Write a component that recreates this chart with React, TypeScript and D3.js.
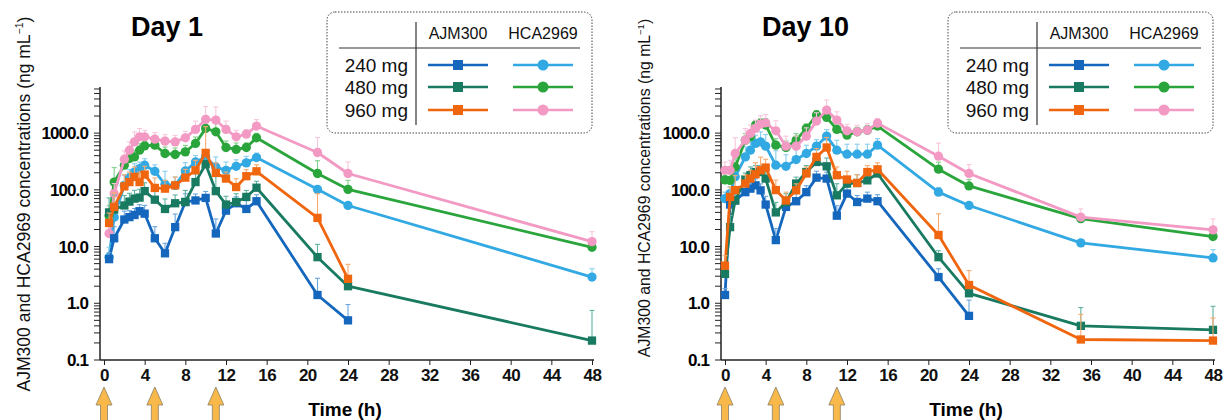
import React, { useEffect, useRef } from 'react'
import * as d3 from 'd3'

// sampling times (h)
const timesDay1 = [0.5, 1, 2, 2.5, 3, 3.5, 4, 5, 6, 7, 8, 9, 10, 11, 12, 13, 14, 15, 21, 24, 48]
const timesDay10 = [0, 0.5, 1, 2, 2.5, 3, 3.5, 4, 5, 6, 7, 8, 9, 10, 11, 12, 13, 14, 15, 21, 24, 35, 48]

// mean concentrations (ng/mL), Day 1
const ajm240Day1 = [6, 14, 30, 33, 36, 42, 38, 14, 7.6, 22, 61, 65, 72, 17, 43, 58, 46, 63, 1.4, 0.5, null]
const ajm480Day1 = [40, 45, 53, 62, 70, 73, 95, 67, 46, 58, 61, 137, 283, 95, 55, 61, 75, 109, 6.5, 2.0, 0.22]
const ajm960Day1 = [26, 50, 115, 137, 169, 137, 186, 108, 105, 120, 164, 221, 448, 199, 158, 112, 174, 212, 32, 2.7, null]
const hca240Day1 = [6.5, 33, 120, 164, 206, 237, 272, 212, 125, 120, 215, 310, 381, 253, 221, 260, 299, 371, 102, 53, 2.9]
const hca480Day1 = [35, 137, 272, 356, 381, 500, 596, 614, 437, 420, 467, 657, 1211, 1055, 558, 515, 558, 826, 194, 102, 9.7]
const hca960Day1 = [17, 86, 347, 500, 701, 861, 861, 783, 722, 701, 826, 1162, 1746, 1697, 1162, 861, 960, 1330, 455, 194, 12.2]

// mean concentrations (ng/mL), Day 10
const ajm240Day10 = [1.4, 55, 65, 91, 105, 120, 98, 55, 13, 50, 63, 91, 164, 158, 35, 86, 61, 70, 63, 2.9, 0.6, null, null]
const ajm480Day10 = [3.3, 22, 65, 152, 181, 206, 206, 158, 40, 61, 129, 206, 310, 260, 80, 129, 132, 147, 194, 6.5, 1.5, 0.4, 0.34]
const ajm960Day10 = [4.6, 75, 99, 129, 158, 188, 221, 247, 99, 65, 98, 194, 381, 558, 181, 152, 132, 206, 230, 16, 2.1, 0.23, 0.22]
const hca240Day10 = [70, 86, 170, 381, 500, 657, 701, 589, 272, 260, 342, 437, 589, 885, 500, 425, 425, 425, 614, 91, 53, 11.6, 6.3]
const hca480Day10 = [150, 147, 253, 752, 861, 1386, 1490, 1386, 614, 558, 752, 1211, 2085, 1896, 1162, 922, 1055, 1130, 1330, 231, 117, 31, 15]
const hca960Day10 = [221, 221, 437, 752, 987, 1211, 1443, 1521, 1099, 589, 589, 885, 1630, 2552, 1697, 1099, 1055, 1130, 1500, 392, 194, 33, 19.7]

// upper error bar as ratio of (mean + SD) / mean
const ajm240ErrDay1 = [1.3, 1.6, 1.4, 1.3, 1.3, 1.3, 1.4, 1.6, 1.5, 1.7, 1.4, 1.3, 1.3, 1.8, 1.4, 1.3, 1.4, 1.3, 1.97, 1.9, null]
const ajm480ErrDay1 = [1.8, 1.8, 1.5, 1.4, 1.4, 1.4, 1.4, 1.4, 1.5, 1.4, 1.6, 1.4, 1.4, 1.8, 1.4, 1.4, 1.3, 1.3, 1.68, 1.4, 3.4]
const ajm960ErrDay1 = [1.5, 1.8, 1.6, 1.5, 1.5, 1.5, 1.4, 1.5, 1.4, 1.4, 1.4, 1.5, 2.9, 1.5, 1.3, 1.4, 1.3, 1.3, 2.66, 1.8, null]
const hca240ErrDay1 = [1.5, 1.8, 1.5, 1.4, 1.4, 1.3, 1.3, 1.3, 1.7, 1.4, 1.4, 1.3, 1.3, 1.5, 1.4, 1.3, 1.3, 1.2, 1.1, 1.1, 1.4]
const hca480ErrDay1 = [1.5, 1.8, 1.4, 1.3, 1.3, 1.3, 1.2, 1.2, 1.3, 1.3, 1.3, 1.3, 1.3, 1.4, 1.3, 1.3, 1.2, 1.2, 1.68, 1.44, 1.1]
const hca960ErrDay1 = [1.6, 1.5, 1.4, 1.4, 1.5, 1.4, 1.3, 1.3, 1.3, 1.3, 1.3, 1.4, 1.68, 1.7, 1.4, 1.3, 1.2, 1.3, 1.84, 1.6, 1.5]

const ajm240ErrDay10 = [1.3, 1.4, 1.4, 1.3, 1.3, 1.3, 1.3, 1.4, 1.6, 1.4, 1.4, 1.3, 1.3, 1.3, 1.5, 1.3, 1.3, 1.3, 1.3, 1.4, 1.9, null, null]
const ajm480ErrDay10 = [1.4, 1.6, 1.4, 1.3, 1.4, 1.3, 1.3, 1.5, 1.5, 1.4, 1.3, 1.3, 1.3, 1.4, 1.6, 1.3, 1.4, 1.3, 1.3, 1.3, 1.4, 2.1, 2.6]
const ajm960ErrDay10 = [1.5, 1.5, 1.8, 1.4, 1.4, 1.6, 1.7, 1.4, 1.5, 1.4, 1.3, 1.3, 1.4, 1.5, 1.4, 1.4, 1.4, 1.3, 1.3, 2.36, 1.8, 2.77, 2.5]
const hca240ErrDay10 = [1.3, 1.3, 1.4, 1.5, 1.4, 1.4, 1.5, 1.6, 1.8, 1.6, 1.5, 1.4, 1.3, 1.3, 1.5, 1.5, 1.5, 1.5, 1.3, 1.2, 1.1, 1.1, 1.4]
const hca480ErrDay10 = [1.2, 1.3, 1.4, 1.3, 1.3, 1.2, 1.2, 1.3, 1.3, 1.3, 1.3, 1.2, 1.2, 1.2, 1.2, 1.2, 1.2, 1.2, 1.2, 1.33, 1.3, 1.1, 1.1]
const hca960ErrDay10 = [1.4, 1.5, 1.9, 1.6, 1.4, 1.4, 1.4, 1.4, 1.5, 1.5, 1.5, 1.4, 1.4, 1.5, 1.4, 1.3, 1.3, 1.3, 1.2, 1.7, 1.44, 1.4, 1.56]

const doses = ['240 mg', '480 mg', '960 mg']
const drugs = ['AJM300', 'HCA2969']
const doseTimes = [0, 5, 11]
const xTicks = [0, 4, 8, 12, 16, 20, 24, 28, 32, 36, 40, 44, 48]
const yMajor = [0.1, 1, 10, 100, 1000]
const yMinorMult = [2, 3, 4, 5, 6, 7, 8, 9]

const ajmColors = ['#1467bd', '#187a60', '#f0660e']
const ajmLight = ['#6aa5de', '#5fb3a1', '#f7ab70']
const hcaColors = ['#32a9e2', '#2aa53c', '#f29ac4']
const hcaLight = ['#86cdee', '#80cf88', '#f8c6dc']

const FONT = '"Liberation Sans", Arial, Helvetica, sans-serif'

function makeSeries(ajm, ajmErr, hca, hcaErr) {
  const list = []
  hca.forEach((v, i) => list.push({ values: v, err: hcaErr[i], color: hcaColors[i], light: hcaLight[i], shape: 'circle' }))
  ajm.forEach((v, i) => list.push({ values: v, err: ajmErr[i], color: ajmColors[i], light: ajmLight[i], shape: 'square' }))
  return list
}

const panels = [
  {
    title: 'Day 1', titleX: 131, dx: 0, labelX: 30, labelY: 204, labelSize: 17.5,
    times: timesDay1,
    series: makeSeries([ajm240Day1, ajm480Day1, ajm960Day1], [ajm240ErrDay1, ajm480ErrDay1, ajm960ErrDay1],
      [hca240Day1, hca480Day1, hca960Day1], [hca240ErrDay1, hca480ErrDay1, hca960ErrDay1])
  },
  {
    title: 'Day 10', titleX: 762, dx: 621, labelX: 650, labelY: 188, labelSize: 15.8,
    times: timesDay10,
    series: makeSeries([ajm240Day10, ajm480Day10, ajm960Day10], [ajm240ErrDay10, ajm480ErrDay10, ajm960ErrDay10],
      [hca240Day10, hca480Day10, hca960Day10], [hca240ErrDay10, hca480ErrDay10, hca960ErrDay10])
  }
]

function drawMarker(sel, shape, color, size) {
  if (shape === 'square') {
    sel.append('rect')
      .attr('x', -size / 2).attr('y', -size / 2)
      .attr('width', size).attr('height', size)
      .attr('fill', color)
  } else {
    sel.append('circle').attr('r', size / 2 + 0.5).attr('fill', color)
  }
}

function drawPanel(svg, p) {
  const g = svg.append('g').attr('transform', 'translate(' + p.dx + ',0)')
  const x = d3.scaleLinear().domain([0, 48]).range([104, 592])
  const y = d3.scaleLog().domain([0.1, 6500]).range([360, 87])

  // title
  g.append('text')
    .attr('x', p.titleX - p.dx).attr('y', 36)
    .attr('font-family', FONT).attr('font-weight', 'bold').attr('font-size', 27)
    .text(p.title)

  // y axis label
  const lab = g.append('text')
    .attr('transform', 'translate(' + (p.labelX - p.dx) + ',' + p.labelY + ') rotate(-90)')
    .attr('text-anchor', 'middle')
    .attr('font-family', FONT).attr('font-size', p.labelSize).attr('fill', '#111')
  lab.append('tspan').text('AJM300 and HCA2969 concentrations (ng mL')
  lab.append('tspan').attr('font-size', p.labelSize * 0.6).attr('dy', -p.labelSize * 0.4).text('\u22121')
  lab.append('tspan').attr('dy', p.labelSize * 0.4).text(')')

  // axes lines
  g.append('line').attr('x1', 100).attr('x2', 100).attr('y1', 87).attr('y2', 360)
    .attr('stroke', '#222').attr('stroke-width', 1.5)
  g.append('line').attr('x1', 100).attr('x2', 594).attr('y1', 360).attr('y2', 360)
    .attr('stroke', '#222').attr('stroke-width', 1.5)

  // y ticks
  const minor = []
  yMajor.forEach(m => yMinorMult.forEach(k => { if (m * k <= 6500) minor.push(m * k) }))
  g.append('g').selectAll('line').data(yMajor.concat(minor)).enter().append('line')
    .attr('x1', 94).attr('x2', 100)
    .attr('y1', d => y(d)).attr('y2', d => y(d))
    .attr('stroke', '#222').attr('stroke-width', 1)
  g.append('g').selectAll('text').data(yMajor).enter().append('text')
    .attr('x', 88).attr('y', d => y(d)).attr('dy', '0.36em')
    .attr('text-anchor', 'end')
    .attr('font-family', FONT).attr('font-weight', 'bold').attr('font-size', 17)
    .attr('letter-spacing', -0.9)
    .text(d => d3.format('.1f')(d))

  // x ticks
  const xa = g.append('g')
    .attr('transform', 'translate(0,360)')
    .call(d3.axisBottom(x).tickValues(xTicks).tickSize(5).tickSizeOuter(0).tickPadding(4))
  xa.select('.domain').remove()
  xa.selectAll('line').attr('stroke', '#222').attr('stroke-width', 1)
  xa.selectAll('text')
    .attr('font-family', FONT).attr('font-weight', 'bold').attr('font-size', 17)
    .attr('letter-spacing', -0.5).attr('fill', '#111')

  g.append('text')
    .attr('x', 345).attr('y', 416)
    .attr('text-anchor', 'middle')
    .attr('font-family', FONT).attr('font-weight', 'bold').attr('font-size', 19)
    .text('Time (h)')

  // dosing arrows
  g.append('g').selectAll('path').data(doseTimes).enter().append('path')
    .attr('transform', d => 'translate(' + x(d) + ',387)')
    .attr('d', 'M0,0 L8,18 L3.5,18 L3.5,40 L-3.5,40 L-3.5,18 L-8,18 Z')
    .attr('fill', '#f8b84a').attr('stroke', '#8c8066').attr('stroke-width', 0.8)

  // series
  const line = d3.line()
    .defined(d => d.v != null)
    .x(d => x(d.t))
    .y(d => y(d.v))

  p.series.forEach(s => {
    const pts = p.times.map((t, i) => ({ t: t, v: s.values[i], e: s.err[i] }))
    const valid = pts.filter(d => d.v != null)
    const sg = g.append('g')
    sg.append('path')
      .attr('d', line(pts))
      .attr('fill', 'none').attr('stroke', s.color).attr('stroke-width', 2.8)
      .attr('stroke-linejoin', 'round')

    const eb = sg.append('g').selectAll('g').data(valid.filter(d => d.e != null)).enter().append('g')
    eb.append('line')
      .attr('x1', d => x(d.t)).attr('x2', d => x(d.t))
      .attr('y1', d => y(d.v)).attr('y2', d => y(d.v * d.e))
      .attr('stroke', s.light).attr('stroke-width', 1.1)
    eb.append('line')
      .attr('x1', d => x(d.t) - 2.5).attr('x2', d => x(d.t) + 2.5)
      .attr('y1', d => y(d.v * d.e)).attr('y2', d => y(d.v * d.e))
      .attr('stroke', s.light).attr('stroke-width', 1.1)

    const mk = sg.append('g').selectAll('g').data(valid).enter().append('g')
      .attr('transform', d => 'translate(' + x(d.t) + ',' + y(d.v) + ')')
    drawMarker(mk, s.shape, s.color, 8.3)
  })

  // legend
  const lg = g.append('g').attr('transform', 'translate(327,12)')
  lg.append('rect')
    .attr('width', 265).attr('height', 121).attr('rx', 8)
    .attr('fill', 'white').attr('stroke', '#444').attr('stroke-width', 1)
    .attr('stroke-dasharray', '1.5,1.5')
  lg.append('line').attr('x1', 89).attr('x2', 89).attr('y1', 10).attr('y2', 113)
    .attr('stroke', '#333').attr('stroke-width', 1.2)
  lg.append('line').attr('x1', 12).attr('x2', 253).attr('y1', 36).attr('y2', 36)
    .attr('stroke', '#333').attr('stroke-width', 1.2)
  const colX = [131, 216]
  lg.selectAll('.hdr').data(drugs).enter().append('text')
    .attr('x', (d, i) => colX[i]).attr('y', 27)
    .attr('text-anchor', 'middle')
    .attr('font-family', FONT).attr('font-size', 16).attr('fill', '#111')
    .text(d => d)
  const rowY = [53, 75, 98]
  lg.selectAll('.row').data(doses).enter().append('text')
    .attr('x', 81).attr('y', (d, i) => rowY[i]).attr('dy', '0.36em')
    .attr('text-anchor', 'end')
    .attr('font-family', FONT).attr('font-size', 19).attr('fill', '#111')
    .text(d => d)
  doses.forEach((d, i) => {
    [ajmColors[i], hcaColors[i]].forEach((c, j) => {
      const cx = colX[j]
      lg.append('line').attr('x1', cx - 30).attr('x2', cx + 30)
        .attr('y1', rowY[i]).attr('y2', rowY[i])
        .attr('stroke', c).attr('stroke-width', 2.4)
      const m = lg.append('g').attr('transform', 'translate(' + cx + ',' + rowY[i] + ')')
      drawMarker(m, j === 0 ? 'square' : 'circle', c, 10)
    })
  })
}

export default function App() {
  const ref = useRef(null)

  useEffect(() => {
    const svg = d3.select(ref.current)
    svg.selectAll('*').remove()
    panels.forEach(p => drawPanel(svg, p))
  }, [])

  return (
    <svg ref={ref} width={1223} height={420}
      style={{ position: 'absolute', left: 0, top: 0, background: 'white' }} />
  )
}
